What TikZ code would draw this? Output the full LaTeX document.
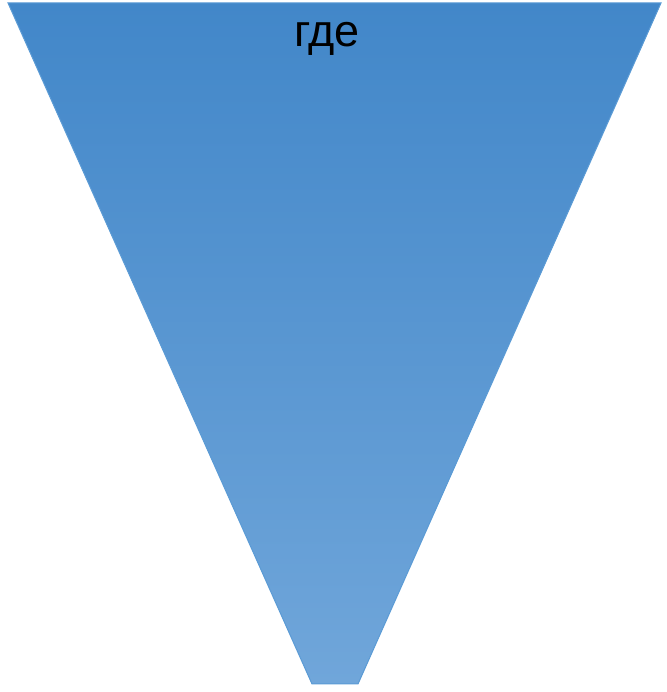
\documentclass[tikz,border=0pt]{standalone}
\usepackage{fontspec}
\setmainfont{Liberation Sans}
\definecolor{topblue}{HTML}{4287C9}
\definecolor{botblue}{HTML}{70A6DA}
\definecolor{edgeblue}{HTML}{5B9BD5}
\begin{document}
\begin{tikzpicture}[x=1pt,y=1pt,
  funnel/.style={top color=topblue,bottom color=botblue,draw=edgeblue,line width=1pt},
  label/.style={font=\fontsize{45}{54}\selectfont,text=black,anchor=base,inner sep=0pt}]
\useasboundingbox (0,0) rectangle (666,692);
\path[funnel] (8,689) -- (661,689) -- (358,8) -- (312,8) -- cycle;
\node[label] (t) at (327,645) {где};
\end{tikzpicture}
\end{document}
